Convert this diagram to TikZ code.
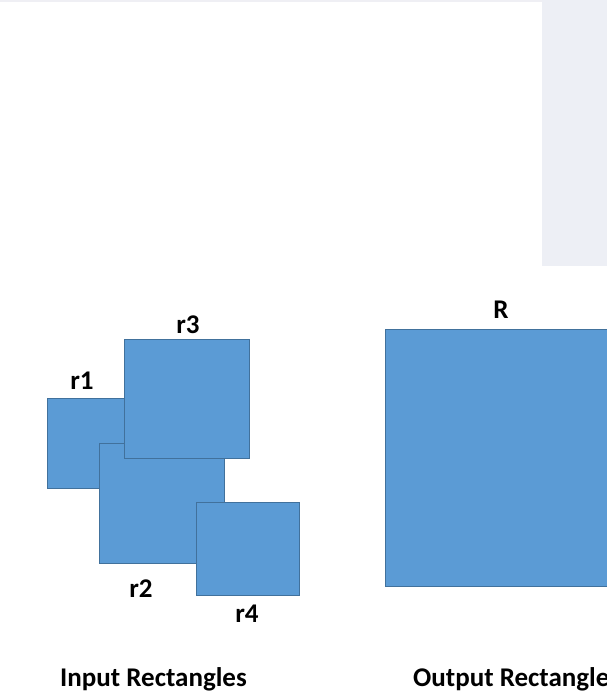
\documentclass[tikz,border=0pt]{standalone}
\usepackage{fontspec}
\setmainfont{Carlito}
\usetikzlibrary{positioning}
\definecolor{Box}{HTML}{5B9BD5}
\definecolor{BoxLine}{HTML}{41719C}
\definecolor{Pane}{HTML}{EDEFF5}
\definecolor{Strip}{HTML}{EFEFF4}
\tikzset{
  box/.style={fill=Box,draw=BoxLine,line width=0.7pt},
  tag/.style={anchor=base,font=\fontsize{27}{31}\selectfont\bfseries,inner sep=0pt},
  caption/.style={anchor=base west,font=\fontsize{27}{31}\selectfont\bfseries,inner sep=0pt}
}
\begin{document}
\begin{tikzpicture}[x=1pt,y=-1pt]
      \useasboundingbox (0,0) rectangle (607,698);
      \fill[white] (0,0) rectangle (607,698);
      \fill[Strip] (0,0) rectangle (542,2);
      \fill[Pane] (542,0) rectangle (607,266);
      % input rectangles
      \draw[box] (47,398) rectangle (137,488);
      \draw[box] (99,443) rectangle (224,563);
      \draw[box] (124,339) rectangle (249,458);
      \draw[box] (196,502) rectangle (299,595);
      \node[tag] (r1) at (82,389) {r1};
      \node[tag] (r2) at (141,597) {r2};
      \node[tag] (r3) at (188,333) {r3};
      \node[tag] (r4) at (247,622) {r4};
      % output rectangle
      \draw[box] (385,329) rectangle (612,586);
      \node[tag] (R) at (501,318) {R};
      \node[caption] (inlabel) at (60,686) {Input Rectangles};
      \node[caption] (outlabel) at (413,686) {Output Rectangles};
    \end{tikzpicture}
\end{document}
